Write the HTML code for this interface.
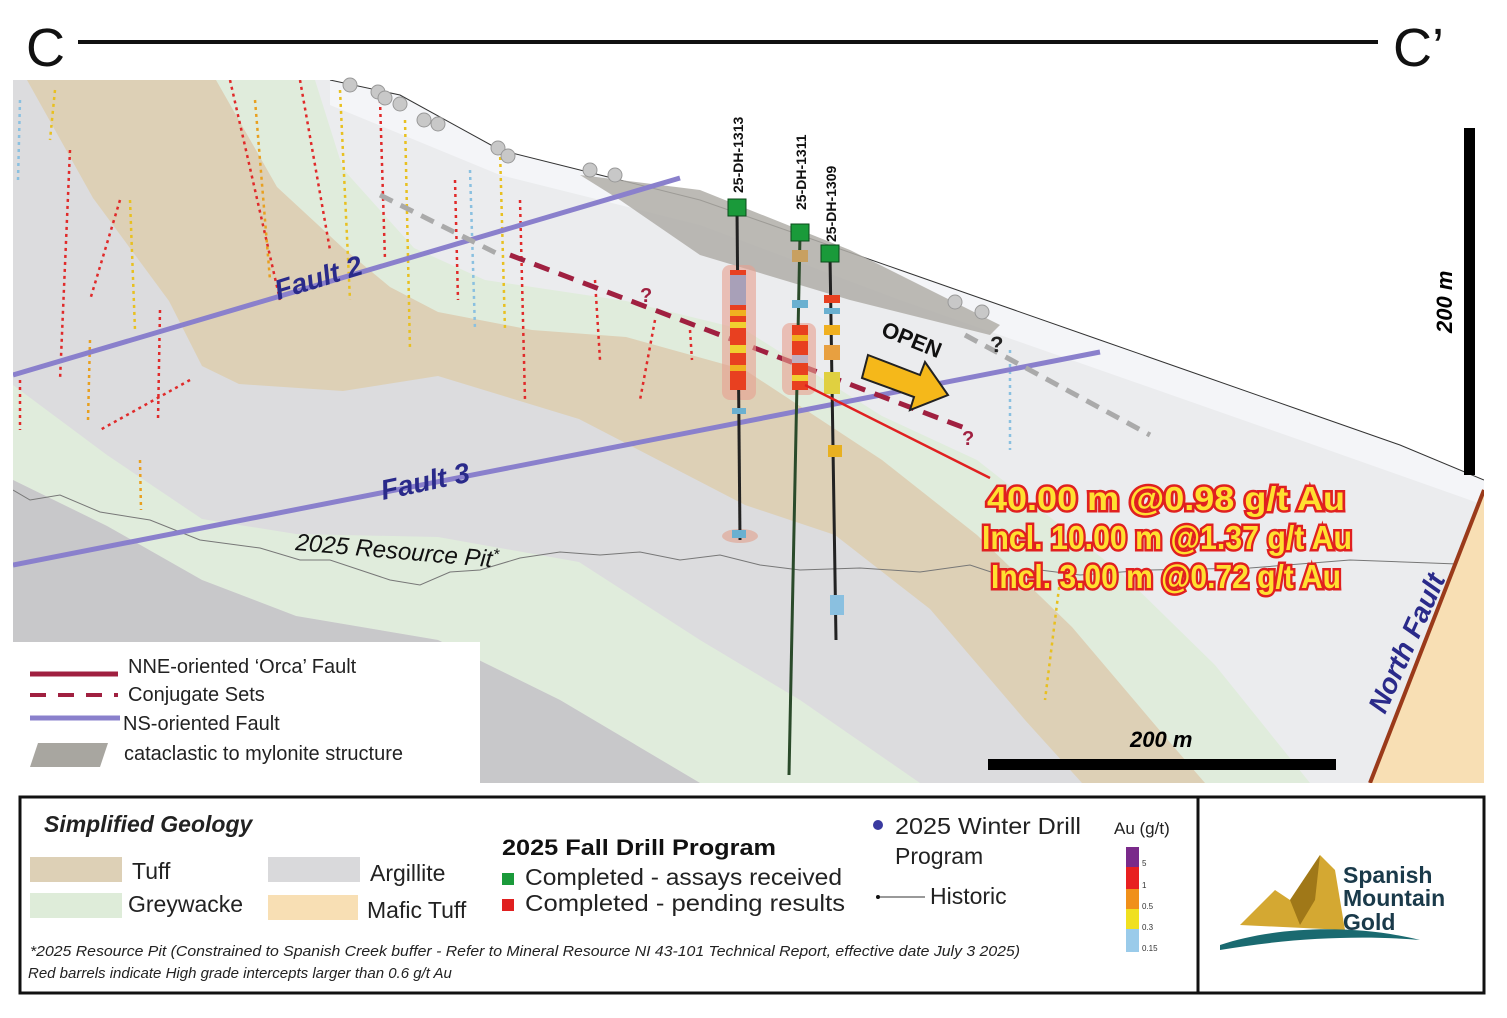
<!DOCTYPE html>
<html><head><meta charset="utf-8"><style>
body{margin:0;background:#fff}
svg{display:block;font-family:"Liberation Sans",sans-serif}
</style></head><body>
<svg width="1507" height="1018" viewBox="0 0 1507 1018" xmlns="http://www.w3.org/2000/svg">
<defs>
<clipPath id="map"><rect x="13" y="80" width="1471" height="703"/></clipPath>
</defs>
<rect width="1507" height="1018" fill="#fff"/>
<text x="26" y="66" font-size="54" fill="#111">C</text>
<rect x="78" y="40" width="1300" height="4" fill="#111"/>
<text x="1393" y="66" font-size="54" fill="#111">C’</text>

<g clip-path="url(#map)">
<rect x="13" y="80" width="1471" height="703" fill="#ebecee"/>
<!-- upper green -->
<path d="M315,80 L343,169 L414,248 L485,280 L626,301 L745,330 L882,416 L977,460 L1120,572 L1215,665 L1310,783 L13,783 L13,80Z" fill="#e0ecdc"/>
<!-- tan -->
<path d="M216,80 L277,187 L343,248 L390,287 L438,312 L532,330 L626,337 L745,370 L882,460 L977,535 L1072,627 L1167,739 L1205,783 L13,783 L13,80Z" fill="#ddd0b6"/>
<!-- middle gray -->
<path d="M27,80 L93,198 L169,301 L202,366 L239,384 L343,391 L438,376 L579,419 L745,505 L835,535 L930,609 L1025,720 L1082,783 L13,783 L13,80Z" fill="#dcdcde"/>
<!-- lower green -->
<path d="M13,385 L107,455 L202,519 L296,534 L438,537 L579,562 L700,640 L800,700 L920,783 L700,783 L560,700 L438,640 L296,616 L202,580 L107,526 L13,480Z" fill="#e0ecdc"/>
<!-- dark gray -->
<path d="M13,480 L107,526 L202,580 L296,616 L438,640 L560,700 L700,783 L13,783Z" fill="#c8c8ca"/>
<!-- whitish strip under topo -->
<path d="M330,80 L400,95 L500,150 L600,175 L700,200 L800,235 L900,270 L1000,305 L1100,340 L1200,375 L1300,410 L1400,445 L1484,480 L1484,505 L1300,440 L1100,370 L900,300 L700,225 L500,175 L330,105Z" fill="#f4f5f8"/>
<!-- sky -->
<path d="M330,80 L400,95 L500,150 L600,175 L700,200 L800,235 L900,270 L1000,305 L1100,340 L1200,375 L1300,410 L1400,445 L1484,480 L1484,80Z" fill="#fff"/>
<polyline points="330,80 400,95 500,150 600,175 700,200 800,235 900,270 1000,305 1100,340 1200,375 1300,410 1400,445 1484,480" fill="none" stroke="#333" stroke-width="1"/>
<!-- mylonite -->
<path d="M580,175 L700,190 L850,250 L1000,325 L990,335 L850,300 L700,255 L620,200Z" fill="#b0aea8" opacity="0.85"/>
<!-- pit line -->
<polyline points="13,490 30,500 60,495 100,512 150,520 200,540 260,548 300,560 330,560 360,570 390,580 420,585 450,572 480,570 520,558 560,552 600,555 640,552 680,560 720,555 760,565 800,570 860,568 920,572 970,565 1000,575 1040,570 1080,575 1150,570 1250,568 1350,560 1484,565" fill="none" stroke="#777" stroke-width="1"/>
<!-- historic traces -->
<g stroke-width="2.5" stroke-dasharray="3 4">
<line x1="20" y1="100" x2="18" y2="180" stroke="#8ac0e0"/>
<line x1="70" y1="150" x2="60" y2="380" stroke="#e02a2a"/>
<line x1="55" y1="90" x2="50" y2="140" stroke="#e8c020"/>
<line x1="120" y1="200" x2="90" y2="300" stroke="#e02a2a"/>
<line x1="130" y1="200" x2="135" y2="330" stroke="#e8c020"/>
<line x1="160" y1="310" x2="158" y2="420" stroke="#e02a2a"/>
<line x1="190" y1="380" x2="100" y2="430" stroke="#e02a2a"/>
<line x1="230" y1="80" x2="280" y2="300" stroke="#e02a2a"/>
<line x1="255" y1="100" x2="270" y2="280" stroke="#e8a020"/>
<line x1="300" y1="80" x2="330" y2="250" stroke="#e02a2a"/>
<line x1="340" y1="90" x2="350" y2="300" stroke="#e8c020"/>
<line x1="380" y1="100" x2="385" y2="260" stroke="#e02a2a"/>
<line x1="405" y1="120" x2="410" y2="350" stroke="#e8c020"/>
<line x1="455" y1="180" x2="458" y2="300" stroke="#e02a2a"/>
<line x1="470" y1="170" x2="475" y2="330" stroke="#8ac0e0"/>
<line x1="500" y1="150" x2="505" y2="330" stroke="#e8c020"/>
<line x1="520" y1="200" x2="525" y2="400" stroke="#e02a2a"/>
<line x1="595" y1="280" x2="600" y2="360" stroke="#e02a2a"/>
<line x1="655" y1="320" x2="640" y2="400" stroke="#e02a2a"/>
<line x1="690" y1="330" x2="692" y2="360" stroke="#e02a2a"/>
<line x1="20" y1="380" x2="20" y2="430" stroke="#e02a2a"/>
<line x1="90" y1="340" x2="88" y2="420" stroke="#e8a020"/>
<line x1="140" y1="460" x2="141" y2="510" stroke="#e8a020"/>
<line x1="1060" y1="580" x2="1045" y2="700" stroke="#e8c020"/>
<line x1="1010" y1="350" x2="1010" y2="450" stroke="#8ac0e0"/>
</g>
<!-- faults -->
<line x1="13" y1="375" x2="680" y2="178" stroke="#8a80cc" stroke-width="5"/>
<line x1="13" y1="565" x2="1100" y2="352" stroke="#8a80cc" stroke-width="5"/>
<line x1="380" y1="195" x2="500" y2="255" stroke="#aaa" stroke-width="5" stroke-dasharray="14 9"/>
<line x1="965" y1="335" x2="1150" y2="435" stroke="#aaa" stroke-width="5" stroke-dasharray="14 9"/>
<line x1="510" y1="255" x2="970" y2="430" stroke="#a02040" stroke-width="5" stroke-dasharray="16 10"/>
<text x="640" y="302" font-size="20" font-weight="bold" fill="#a02040">?</text>
<text x="962" y="445" font-size="20" font-weight="bold" fill="#a02040">?</text>
<text x="990" y="352" font-size="22" font-weight="bold" fill="#222">?</text>
<!-- mafic tuff -->
<path d="M1370,783 L1484,490 L1484,783Z" fill="#f8dfb4"/>
<line x1="1370" y1="783" x2="1484" y2="490" stroke="#9a3a1a" stroke-width="4"/>
</g>
<g fill="#c8c8c8" stroke="#999">
<circle cx="350" cy="85" r="7"/><circle cx="378" cy="92" r="7"/><circle cx="385" cy="98" r="7"/><circle cx="400" cy="104" r="7"/>
<circle cx="424" cy="120" r="7"/><circle cx="438" cy="124" r="7"/><circle cx="498" cy="148" r="7"/><circle cx="508" cy="156" r="7"/>
<circle cx="590" cy="170" r="7"/><circle cx="615" cy="175" r="7"/><circle cx="955" cy="302" r="7"/><circle cx="982" cy="312" r="7"/>
</g>
<text x="278" y="300" font-size="28" font-weight="bold" font-style="italic" fill="#2a2a8a" transform="rotate(-17 278 300)">Fault 2</text>
<text x="383" y="500" font-size="28" font-weight="bold" font-style="italic" fill="#2a2a8a" transform="rotate(-12 383 500)">Fault 3</text>
<text x="295" y="550" font-size="24" font-style="italic" fill="#111" transform="rotate(5 295 550)">2025 Resource Pit<tspan font-size="16" dy="-8">*</tspan></text>
<text x="1385" y="715" font-size="28" font-weight="bold" font-style="italic" fill="#2a2a8a" transform="rotate(-66 1385 715)">North Fault</text>
<!-- drill holes -->
<rect x="722" y="265" width="34" height="135" rx="8" fill="#e8a090" opacity="0.6"/>
<rect x="782" y="323" width="34" height="72" rx="8" fill="#e8a090" opacity="0.6"/>
<ellipse cx="740" cy="536" rx="18" ry="7" fill="#e0a898" opacity="0.7"/>
<line x1="737" y1="210" x2="740" y2="540" stroke="#222" stroke-width="3"/>
<line x1="800" y1="235" x2="789" y2="775" stroke="#2a4a2a" stroke-width="3"/>
<line x1="830" y1="256" x2="836" y2="640" stroke="#222" stroke-width="3"/>
<g>
<rect x="730" y="270" width="16" height="120" fill="#e84020"/>
<rect x="730" y="275" width="16" height="30" fill="#a8a0b8"/>
<rect x="730" y="310" width="16" height="6" fill="#f0b020"/>
<rect x="730" y="322" width="16" height="6" fill="#f0d030"/>
<rect x="730" y="345" width="16" height="8" fill="#f0d030"/>
<rect x="730" y="365" width="16" height="6" fill="#f0b020"/>
<rect x="792" y="250" width="16" height="12" fill="#c8a060"/>
<rect x="792" y="300" width="16" height="8" fill="#6ab0d0"/>
<rect x="792" y="325" width="16" height="65" fill="#e84020"/>
<rect x="792" y="335" width="16" height="6" fill="#f0b020"/>
<rect x="792" y="355" width="16" height="8" fill="#c0b0c0"/>
<rect x="792" y="375" width="16" height="6" fill="#f0d030"/>
<rect x="824" y="295" width="16" height="8" fill="#e84020"/>
<rect x="824" y="308" width="16" height="6" fill="#6ab0d0"/>
<rect x="824" y="325" width="16" height="10" fill="#f0b020"/>
<rect x="824" y="345" width="16" height="15" fill="#e8a040"/>
<rect x="824" y="372" width="16" height="22" fill="#e0d040"/>
<rect x="828" y="445" width="14" height="12" fill="#e8b020"/>
<rect x="830" y="595" width="14" height="20" fill="#8ac0e0"/>
<rect x="732" y="408" width="14" height="6" fill="#6ab0d0"/>
<rect x="732" y="530" width="14" height="8" fill="#6ab0d0"/>
</g>
<rect x="728" y="199" width="18" height="17" fill="#1a9a3a" stroke="#0a4a1a"/>
<rect x="791" y="224" width="18" height="17" fill="#1a9a3a" stroke="#0a4a1a"/>
<rect x="821" y="245" width="18" height="17" fill="#1a9a3a" stroke="#0a4a1a"/>
<g font-size="14" font-weight="bold" fill="#111">
<text transform="translate(743 193) rotate(-90)">25-DH-1313</text>
<text transform="translate(806 210) rotate(-90)">25-DH-1311</text>
<text transform="translate(836 242) rotate(-90)">25-DH-1309</text>
</g>
<text x="880" y="335" font-size="22" font-weight="bold" fill="#111" transform="rotate(22 880 335)">OPEN</text>
<path d="M868,355 L920,375 L925,362 L948,395 L910,410 L914,397 L862,378Z" fill="#f5b81a" stroke="#222" stroke-width="2"/>
<line x1="805" y1="385" x2="990" y2="478" stroke="#e02020" stroke-width="2.5"/>
<g font-size="33" font-weight="bold" fill="#ffe030" stroke="#e02020" stroke-width="5" paint-order="stroke" lengthAdjust="spacingAndGlyphs">
<text x="987" y="510" textLength="358" lengthAdjust="spacingAndGlyphs">40.00 m @0.98 g/t Au</text>
<text x="982" y="549" textLength="370" lengthAdjust="spacingAndGlyphs">Incl.  10.00 m @1.37 g/t Au</text>
<text x="991" y="588" textLength="350" lengthAdjust="spacingAndGlyphs">Incl.  3.00 m @0.72 g/t Au</text>
</g>
<rect x="1464" y="128" width="11" height="347" fill="#000"/>
<text transform="translate(1452 333) rotate(-90)" font-size="22" font-weight="bold" font-style="italic">200 m</text>
<rect x="988" y="759" width="348" height="11" fill="#000"/>
<text x="1130" y="747" font-size="22" font-weight="bold" font-style="italic">200 m</text>
<rect x="13" y="642" width="467" height="142" fill="#fff"/>
<g font-size="20" fill="#222">
<line x1="30" y1="674" x2="118" y2="674" stroke="#a02040" stroke-width="5"/>
<text x="128" y="673">NNE-oriented ‘Orca’ Fault</text>
<line x1="30" y1="695" x2="118" y2="695" stroke="#a02040" stroke-width="4" stroke-dasharray="16 12"/>
<text x="128" y="701">Conjugate Sets</text>
<line x1="30" y1="718" x2="120" y2="718" stroke="#8a80cc" stroke-width="5"/>
<text x="123" y="730">NS-oriented Fault</text>
<path d="M38,743 L108,743 L100,767 L30,767Z" fill="#a8a6a0"/>
<text x="124" y="760">cataclastic to mylonite structure</text>
</g>
<rect x="20" y="797" width="1464" height="196" fill="#fff" stroke="#111" stroke-width="3"/>
<line x1="1198" y1="797" x2="1198" y2="993" stroke="#111" stroke-width="3"/>
<text x="44" y="832" font-size="23" font-weight="bold" font-style="italic" fill="#222">Simplified Geology</text>
<rect x="30" y="857" width="92" height="25" fill="#ddd0b6"/><text x="132" y="879" font-size="23" fill="#222">Tuff</text>
<rect x="30" y="893" width="92" height="25" fill="#deecd9"/><text x="128" y="912" font-size="23" fill="#222">Greywacke</text>
<rect x="268" y="857" width="92" height="25" fill="#d9d9db"/><text x="370" y="881" font-size="23" fill="#222">Argillite</text>
<rect x="268" y="895" width="90" height="25" fill="#f8dfb4"/><text x="367" y="918" font-size="23" fill="#222">Mafic Tuff</text>
<text x="502" y="855" font-size="22" font-weight="bold" fill="#111" textLength="274" lengthAdjust="spacingAndGlyphs">2025 Fall Drill Program</text>
<rect x="502" y="873" width="12" height="12" fill="#1a9a3a"/><text x="525" y="885" font-size="23" fill="#222" textLength="317" lengthAdjust="spacingAndGlyphs">Completed - assays received</text>
<rect x="502" y="899" width="12" height="12" fill="#e02020"/><text x="525" y="911" font-size="23" fill="#222" textLength="320" lengthAdjust="spacingAndGlyphs">Completed - pending results</text>
<circle cx="878" cy="825" r="5" fill="#3a3aa0"/>
<text x="895" y="834" font-size="23" fill="#222" textLength="186" lengthAdjust="spacingAndGlyphs">2025 Winter Drill</text>
<text x="895" y="864" font-size="23" fill="#222">Program</text>
<circle cx="878" cy="897" r="2" fill="#111"/><line x1="880" y1="897" x2="925" y2="897" stroke="#333"/>
<text x="930" y="904" font-size="23" fill="#222">Historic</text>
<text x="1114" y="834" font-size="17" fill="#222">Au (g/t)</text>
<rect x="1126" y="847" width="13" height="20" fill="#7a2a8a"/>
<rect x="1126" y="867" width="13" height="22" fill="#e82020"/>
<rect x="1126" y="889" width="13" height="20" fill="#f0901a"/>
<rect x="1126" y="909" width="13" height="20" fill="#f0e020"/>
<rect x="1126" y="929" width="13" height="23" fill="#9acbea"/>
<g font-size="8" fill="#333"><text x="1142" y="866">5</text><text x="1142" y="888">1</text><text x="1142" y="909">0.5</text><text x="1142" y="930">0.3</text><text x="1142" y="951">0.15</text></g>
<text x="30" y="956" font-size="15" font-style="italic" fill="#222" textLength="990" lengthAdjust="spacingAndGlyphs">*2025 Resource Pit (Constrained to Spanish Creek buffer - Refer to Mineral Resource NI 43-101 Technical Report, effective date July 3 2025)</text>
<text x="28" y="978" font-size="15" font-style="italic" fill="#222">Red barrels indicate High grade intercepts larger than 0.6 g/t Au</text>
<path d="M1240,925 L1275,890 L1290,900 L1320,855 L1335,870 L1345,930Z" fill="#d4a832"/>
<path d="M1290,900 L1320,855 L1315,900 L1300,925Z" fill="#a07818"/>
<path d="M1220,945 C1280,925 1360,925 1420,940 C1360,935 1290,938 1220,950Z" fill="#1a6a70"/>
<g font-size="23" font-weight="bold" fill="#1a3a4a">
<text x="1343" y="883">Spanish</text><text x="1343" y="906">Mountain</text><text x="1343" y="930">Gold</text>
</g>
</svg>
</body></html>
